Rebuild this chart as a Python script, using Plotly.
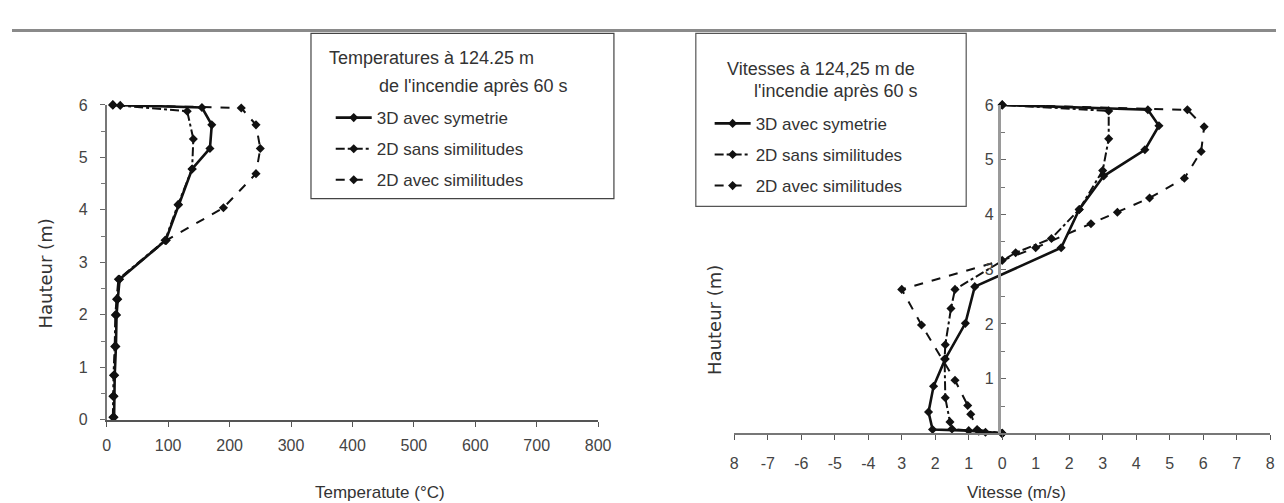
import plotly.graph_objects as go

W, H = 1284, 503
FONT = "Liberation Sans, Arial, sans-serif"
VFONT = "DejaVu Sans, Liberation Sans, sans-serif"
INK = "#111111"
TXT = "#333333"

# ---------------- Left chart: temperature (°C) vs height (m) ----------------
temp_h_3d = [0.05, 0.45, 0.85, 1.4, 2.0, 2.3, 2.68, 3.42, 4.1, 4.78, 5.17, 5.62, 5.95, 5.99, 6.0]
temp_3d = [12, 12, 13, 15, 16, 18, 21, 96, 117, 139, 168, 171, 155, 22, 10]

temp_h_sans = [0.05, 0.45, 0.85, 1.4, 2.0, 2.3, 2.68, 3.42, 4.1, 4.78, 5.35, 5.88, 6.0]
temp_sans = [10, 10, 11, 13, 14, 16, 19, 95, 116, 139, 141, 131, 10]

temp_h_avec = [0.05, 0.45, 0.85, 1.4, 2.0, 2.3, 2.68, 3.42, 4.04, 4.69, 5.17, 5.62, 5.94, 6.0]
temp_avec = [11, 11, 12, 14, 15, 17, 20, 97, 190, 243, 250, 243, 219, 10]

temp_ticks = [0, 100, 200, 300, 400, 500, 600, 700, 800]
height_ticks_left = [0, 1, 2, 3, 4, 5, 6]

# ---------------- Right chart: velocity (m/s) vs height (m) ----------------
vit_h_3d = [0, 0.02, 0.05, 0.07, 0.39, 0.86, 1.36, 2.01, 2.68, 3.39, 4.09, 4.7, 5.18, 5.62, 5.91, 6.0]
vit_3d = [0, -0.5, -1.0, -2.08, -2.2, -2.05, -1.7, -1.1, -0.82, 1.76, 2.3, 3.03, 4.26, 4.68, 4.35, 0]

vit_h_sans = [0, 0.04, 0.08, 0.21, 0.65, 1.36, 1.62, 2.28, 2.63, 3.3, 3.56, 4.09, 4.8, 5.38, 5.89, 6.0]
vit_sans = [0, -0.7, -1.5, -1.56, -1.7, -1.72, -1.7, -1.53, -1.41, 0.4, 1.47, 2.3, 3.0, 3.18, 3.18, 0]

vit_h_avec = [0, 0.07, 0.35, 0.51, 0.97, 1.98, 2.63, 3.16, 3.39, 3.83, 4.04, 4.3, 4.66, 5.15, 5.6, 5.91, 6.0]
vit_avec = [0, -0.75, -0.94, -1.03, -1.41, -2.41, -3.0, 0.0, 1.0, 2.65, 3.44, 4.4, 5.44, 5.94, 6.03, 5.53, 0]

vit_tickvals = [-8, -7, -6, -5, -4, -3, -2, -1, 0, 1, 2, 3, 4, 5, 6, 7, 8]
vit_ticktext = ["8", "-7", "-6", "-5", "-4", "3", "2", "1", "0", "1", "2", "3", "4", "5", "6", "7", "8"]
height_ticks_right = [1, 2, 3, 4, 5, 6]

series_names = ["3D avec symetrie", "2D sans similitudes", "2D avec similitudes"]
series_dash = ["solid", "dashdot", "dash"]
series_width = [2.6, 2.0, 2.0]

fig = go.Figure()

left_sets = [(temp_3d, temp_h_3d), (temp_sans, temp_h_sans), (temp_avec, temp_h_avec)]
right_sets = [(vit_3d, vit_h_3d), (vit_sans, vit_h_sans), (vit_avec, vit_h_avec)]

for i, (xs, ys) in enumerate(left_sets):
    fig.add_trace(go.Scatter(
        x=xs, y=ys, mode="lines+markers", name=series_names[i],
        line=dict(color=INK, width=series_width[i], dash=series_dash[i]),
        marker=dict(symbol="diamond", size=7, color=INK),
        xaxis="x", yaxis="y", legend="legend", legendgroup="L%d" % i,
        cliponaxis=False))

for i, (xs, ys) in enumerate(right_sets):
    fig.add_trace(go.Scatter(
        x=xs, y=ys, mode="lines+markers", name=series_names[i],
        line=dict(color=INK, width=series_width[i], dash=series_dash[i]),
        marker=dict(symbol="diamond", size=7, color=INK),
        xaxis="x2", yaxis="y2", legend="legend2", legendgroup="R%d" % i,
        cliponaxis=False))

tickfont = dict(family=FONT, size=16, color="#444")

def px_x(v):
    return v / W

def px_y(v):
    return (H - v) / H

title_font = dict(family=FONT, size=18, color=TXT)
axis_font = dict(family=FONT, size=17, color=TXT)
vert_font = dict(family=VFONT, size=18, color=TXT)

annotations = [
    dict(text="Temperatures à 124.25 m", x=px_x(425), y=px_y(43), font=title_font),
    dict(text="de l'incendie après 60 s", x=px_x(468), y=px_y(72), font=title_font),
    dict(text="Vitesses à 124,25 m de", x=px_x(820), y=px_y(55), font=title_font),
    dict(text="l'incendie après 60 s", x=px_x(835), y=px_y(78), font=title_font),
    dict(text="Temperatute (°C)", x=px_x(373), y=px_y(493), font=axis_font),
    dict(text="Vitesse (m/s)", x=px_x(1018), y=px_y(493), font=axis_font),
    dict(text="Hauteur (m)", x=px_x(34), y=px_y(267), textangle=-90, font=vert_font),
    dict(text="Hauteur (m)", x=px_x(712), y=px_y(315), textangle=-90, font=vert_font),
]
for a in annotations:
    a.update(xref="paper", yref="paper", showarrow=False, xanchor="center", yanchor="middle")

shapes = [
    dict(type="line", xref="paper", yref="paper", x0=0, x1=1, y0=px_y(15), y1=px_y(15),
         line=dict(color="#8a8a8a", width=3)),
    dict(type="rect", xref="paper", yref="paper", x0=px_x(303), x1=px_x(610), y0=px_y(189), y1=px_y(18),
         line=dict(color="#444", width=1.2)),
    dict(type="rect", xref="paper", yref="paper", x0=px_x(693), x1=px_x(967), y0=px_y(197), y1=px_y(18),
         line=dict(color="#555", width=1.2)),
]

legend_common = dict(xanchor="left", yanchor="top", bgcolor="rgba(0,0,0,0)", borderwidth=0,
                     font=dict(family=FONT, size=17, color=TXT), itemwidth=36,
                     traceorder="grouped", tracegroupgap=6)

fig.update_layout(
    width=W, height=H, margin=dict(l=0, r=0, t=0, b=0),
    paper_bgcolor="white", plot_bgcolor="white",
    showlegend=True,
    legend=dict(x=px_x(323), y=px_y(87), **legend_common),
    legend2=dict(x=px_x(707), y=px_y(93), **legend_common),
    xaxis=dict(domain=[px_x(96), px_x(594)], range=[0, 800], tickvals=temp_ticks,
               showline=True, linecolor="#555", linewidth=1.5, ticks="outside", ticklen=5,
               tickcolor="#555", showgrid=False, zeroline=False, anchor="y",
               tickfont=tickfont, ticklabelstandoff=5),
    yaxis=dict(domain=[px_y(418), px_y(92)], range=[0, 6], tickvals=height_ticks_left,
               showline=True, linecolor="#777", linewidth=1.5, ticks="outside", ticklen=5,
               tickcolor="#666", minor=dict(dtick=0.5, ticks="outside", ticklen=4, tickcolor="#777"),
               showgrid=False, zeroline=False, anchor="x", tickfont=tickfont, ticklabelstandoff=9),
    xaxis2=dict(domain=[px_x(732), px_x(1275)], range=[-8, 8], tickvals=vit_tickvals,
                ticktext=vit_ticktext, showline=True, linecolor="#777", linewidth=2,
                ticks="outside", ticklen=5, tickcolor="#555", showgrid=False, zeroline=False,
                anchor="y2", tickfont=tickfont, ticklabelstandoff=9),
    yaxis2=dict(domain=[px_y(432), px_y(92)], range=[0, 6], tickvals=height_ticks_right,
                anchor="free", position=px_x(1000), side="left",
                showline=True, linecolor="#9a9a9a", linewidth=3, ticks="inside", ticklen=5,
                tickcolor="#666", minor=dict(dtick=0.5, ticks="inside", ticklen=4, tickcolor="#777"),
                showgrid=False, zeroline=False, tickfont=tickfont, ticklabelstandoff=1),
    annotations=annotations,
    shapes=shapes,
)

fig.write_html("out.html")
